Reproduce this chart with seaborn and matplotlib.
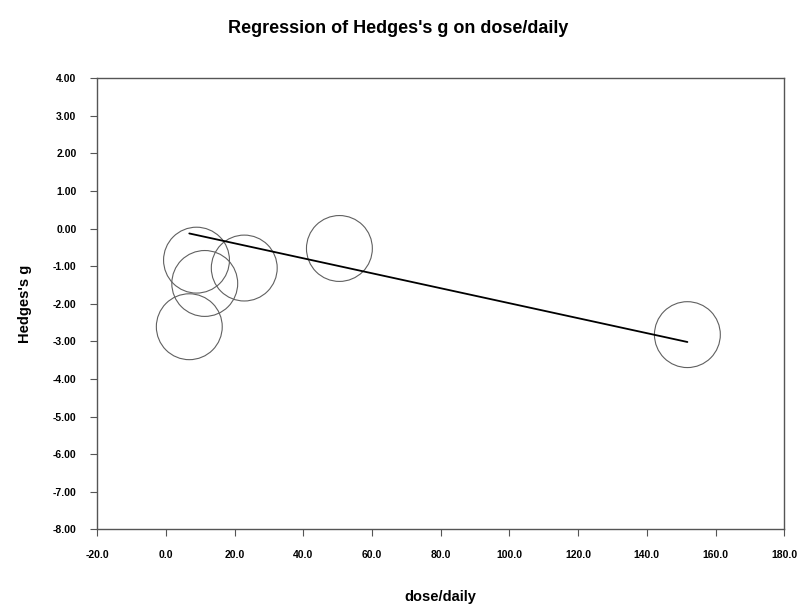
import numpy as np
import pandas as pd
import matplotlib
matplotlib.use("Agg")
import matplotlib.pyplot as plt
import seaborn as sns

# -------------------
# Data
# -------------------
dose_daily = [8.9, 11.3, 22.8, 6.8, 50.5, 151.8]
hedges_g = [-0.84, -1.46, -1.05, -2.61, -0.53, -2.82]

# meta-regression fit
intercept = 0.005
slope = -0.0199

x_ticks = np.arange(-20, 181, 20)
y_ticks = np.arange(-8, 4.01, 1)

sns.set_style("ticks")
plt.rcParams['font.family'] = ['Liberation Sans', 'DejaVu Sans']
plt.rcParams['text.color'] = 'black'
plt.rcParams['axes.labelcolor'] = 'black'
plt.rcParams['xtick.labelcolor'] = 'black'
plt.rcParams['ytick.labelcolor'] = 'black'

df = pd.DataFrame({"dose/daily": dose_daily, "Hedges's g": hedges_g})
x_line = np.array([min(dose_daily), max(dose_daily)])
line_df = pd.DataFrame({"x": x_line, "y": intercept + slope * x_line})

fig = plt.figure(figsize=(7.97, 6.10), dpi=100)
ax = fig.add_axes([0.122, 0.132, 0.862, 0.740])

sns.scatterplot(data=df, x="dose/daily", y="Hedges's g", s=2250,
                facecolor="none", edgecolor="#606060", linewidth=0.8, ax=ax)
sns.lineplot(data=line_df, x="x", y="y", color="black", linewidth=1.3, ax=ax)

ax.set_xlim(-20, 180)
ax.set_ylim(-8, 4)
ax.set_xticks(x_ticks)
ax.set_yticks(y_ticks)
ax.set_xticklabels([f"{v:.1f}" for v in x_ticks], fontweight="bold", fontsize=7.5)
ax.set_yticklabels([f"{v:.2f}" for v in y_ticks], fontweight="bold", fontsize=7.5)
ax.tick_params(axis="both", length=5, width=0.8, color="#555555", pad=10)
for sp in ax.spines.values():
    sp.set_color("#555555")
    sp.set_linewidth(1.0)

ax.set_xlabel("dose/daily", fontweight="bold", fontsize=10.5)
ax.xaxis.set_label_coords(0.5, -0.135)
ax.set_ylabel("Hedges's g", fontweight="bold", fontsize=10.5, labelpad=15)
fig.suptitle("Regression of Hedges's g on dose/daily", fontweight="bold",
             fontsize=13, y=0.968)

fig.savefig("out.png", dpi=100)
